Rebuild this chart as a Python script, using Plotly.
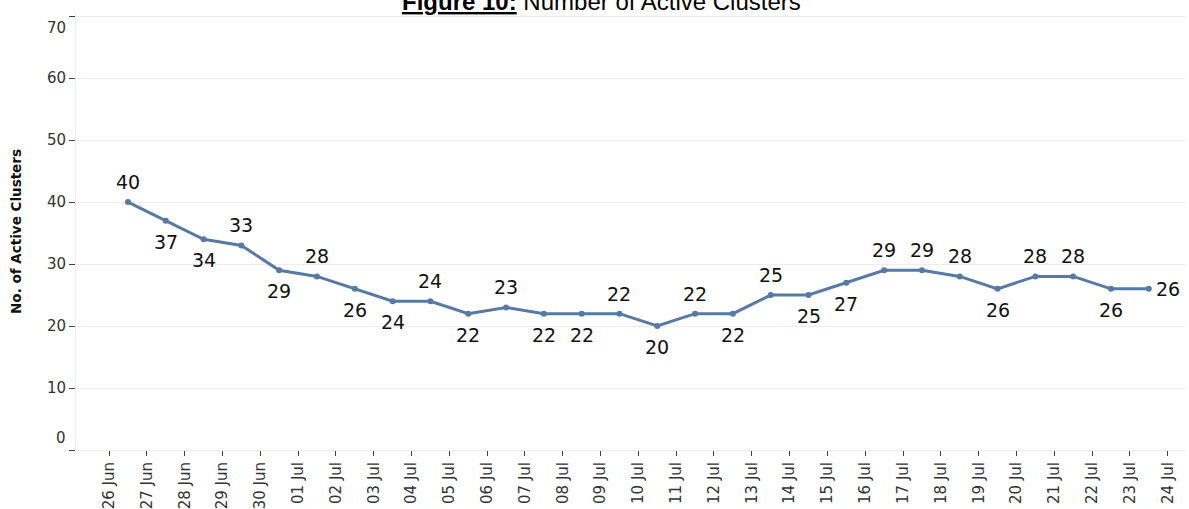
import plotly.graph_objects as go
import pandas as pd

# ---- data ----
dates = pd.date_range("2021-06-26 12:00", "2021-07-23 12:00", freq="D")
active_clusters = [40, 37, 34, 33, 29, 28, 26, 24, 24, 22, 23, 22, 22, 22,
                   20, 22, 22, 25, 25, 27, 29, 29, 28, 26, 28, 28, 26, 26]
label_side = ["top", "bottom", "bottom", "top", "bottom", "top", "bottom",
              "bottom", "top", "bottom", "top", "bottom", "bottom", "top",
              "bottom", "top", "bottom", "top", "bottom", "bottom", "top",
              "top", "top", "bottom", "top", "top", "bottom", "right"]
y_ticks = [0, 10, 20, 30, 40, 50, 60, 70]
x_tick_dates = pd.date_range("2021-06-26", "2021-07-24", freq="D")

LINE_COLOR = "#5679a6"
TXT = "#222222"

fig = go.Figure()
fig.add_trace(go.Scatter(
    x=dates, y=active_clusters, mode="lines+markers",
    line=dict(color=LINE_COLOR, width=3),
    marker=dict(color=LINE_COLOR, size=6),
    hoverinfo="x+y", showlegend=False,
))

annotations = []
for d, v, side in zip(dates, active_clusters, label_side):
    ann = dict(x=d, y=v, xref="x", yref="y", text=str(v), showarrow=False,
               font=dict(family="DejaVu Sans", size=19, color="#111111"))
    if side == "top":
        ann.update(yshift=20)
    elif side == "bottom":
        ann.update(yshift=-21)
    else:
        ann.update(xshift=19, xanchor="center")
    annotations.append(ann)

# end y tick labels nudged inside the plot like the original
for t, sh in ((y_ticks[0], 12), (y_ticks[-1], -12)):
    annotations.append(dict(x=0, xref="paper", xanchor="right", xshift=-8,
                            y=t, yref="y", yshift=sh, text=str(t),
                            showarrow=False,
                            font=dict(family="DejaVu Sans", size=15, color="#333333")))

# title
annotations.append(dict(
    x=(601 - 76) / (1185 - 76), xref="paper", y=1, yref="paper",
    yanchor="bottom", yshift=-4,
    text="<b><u>Figure 10:</u></b> Number of Active Clusters", showarrow=False,
    font=dict(family="Liberation Sans, Arial", size=24, color="#000000"),
))

fig.update_layout(
    width=1189, height=509,
    margin=dict(l=76, r=4, t=13, b=59),
    paper_bgcolor="white", plot_bgcolor="white",
    annotations=annotations,
    font=dict(family="DejaVu Sans", color=TXT),
)

fig.update_xaxes(
    type="date",
    range=["2021-06-25 03:00", "2021-07-24 11:00"],
    tickvals=x_tick_dates,
    tickformat="%d %b",
    tickangle=-90,
    tickfont=dict(family="DejaVu Sans", size=15, color="#333333"),
    ticks="outside", ticklen=5, tickcolor="#444444", tickwidth=1,
    showgrid=False, zeroline=False,
    showline=True, linecolor="#eeeeee", linewidth=1,
    automargin=False,
)
fig.update_yaxes(
    range=[0, 70.5],
    tickvals=y_ticks,
    ticktext=["" if t in (y_ticks[0], y_ticks[-1]) else str(t) for t in y_ticks],
    tickfont=dict(family="DejaVu Sans", size=15, color="#333333"),
    ticks="outside", ticklen=6, tickcolor="#444444", tickwidth=1,
    showgrid=True, gridcolor="#ededed", gridwidth=1,
    zeroline=False,
    showline=True, linecolor="#eeeeee", linewidth=1,
    title=dict(text="<b>No. of Active Clusters</b>", standoff=22,
               font=dict(family="DejaVu Sans", size=13.5, color="#111111")),
    automargin=False,
)

fig.write_html("out.html",
               config={"displayModeBar": False},
               post_script="document.body.style.margin='0';document.body.style.overflow='hidden';")
